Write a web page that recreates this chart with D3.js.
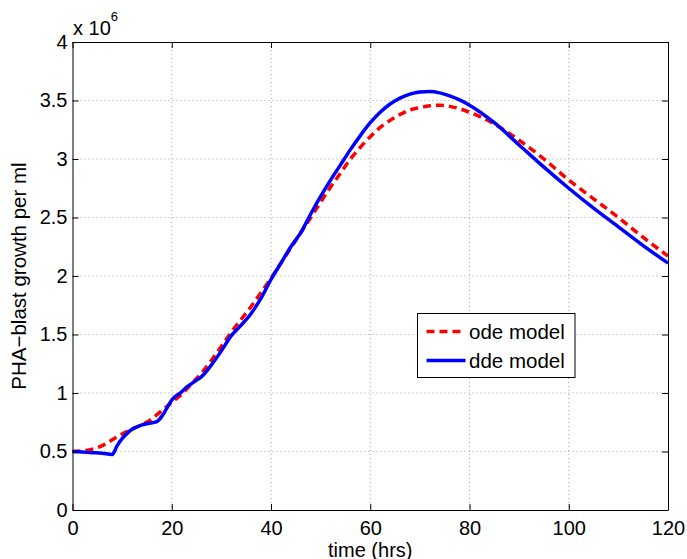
<!DOCTYPE html>
<html>
<head>
<meta charset="utf-8">
<script src="https://cdn.jsdelivr.net/npm/d3@7"></script>
<style>
  body { margin: 0; background: #fff; }
  text { font-family: "Liberation Sans", Arial, sans-serif; }
</style>
</head>
<body>
<div id="chart"></div>
<script>
// time points (hrs)
const timeDde = [0, 2, 4, 6, 8, 9, 10, 11, 12, 13, 14, 15, 16, 17, 18, 19, 20, 22, 23, 24, 25, 26, 28, 30, 32, 34, 36, 38, 40, 42, 44, 46, 48, 50, 52, 54, 56, 58, 60, 62, 64, 66, 68, 70, 72, 74, 76, 78, 80, 85, 90, 95, 100, 105, 110, 115, 120];
const ddeValues = [0.50, 0.495, 0.49, 0.485, 0.475, 0.55, 0.61, 0.655, 0.69, 0.71, 0.727, 0.737, 0.745, 0.755, 0.80, 0.87, 0.94, 1.01, 1.05, 1.08, 1.11, 1.14, 1.24, 1.36, 1.49, 1.58, 1.68, 1.81, 1.97, 2.11, 2.25, 2.37, 2.53, 2.68, 2.82, 2.95, 3.08, 3.20, 3.31, 3.40, 3.47, 3.52, 3.555, 3.573, 3.576, 3.565, 3.54, 3.505, 3.46, 3.31, 3.12, 2.93, 2.75, 2.58, 2.42, 2.26, 2.11];

const timeOde = [0, 2, 4, 6, 8, 10, 12, 14, 16, 18, 20, 22, 24, 26, 28, 30, 32, 34, 36, 38, 40, 42, 44, 46, 48, 50, 52, 54, 56, 58, 60, 62, 64, 66, 68, 70, 72, 74, 76, 78, 80, 85, 90, 95, 100, 105, 110, 115, 120];
const odeValues = [0.50, 0.505, 0.52, 0.55, 0.60, 0.65, 0.69, 0.73, 0.78, 0.85, 0.92, 0.99, 1.08, 1.17, 1.28, 1.40, 1.52, 1.63, 1.74, 1.86, 1.98, 2.11, 2.24, 2.37, 2.50, 2.63, 2.76, 2.88, 3.00, 3.10, 3.19, 3.27, 3.33, 3.38, 3.42, 3.44, 3.455, 3.46, 3.45, 3.43, 3.40, 3.30, 3.16, 3.00, 2.82, 2.66, 2.50, 2.33, 2.17];

const xTicks = [0, 20, 40, 60, 80, 100, 120];
const yTicks = [0, 0.5, 1, 1.5, 2, 2.5, 3, 3.5, 4];

const legendItems = [
  { label: 'ode model', color: '#ff0000', dash: '8,5' },
  { label: 'dde model', color: '#0000ff', dash: null }
];

const width = 687, height = 559;
const margin = { top: 42, right: 19, bottom: 49, left: 72.5 };
const innerW = width - margin.left - margin.right;
const innerH = height - margin.top - margin.bottom;

const svg = d3.select('#chart').append('svg')
  .attr('width', width)
  .attr('height', height);

svg.append('rect').attr('width', width).attr('height', height).attr('fill', '#fff');

const g = svg.append('g').attr('transform', `translate(${margin.left},${margin.top})`);

const x = d3.scaleLinear().domain([0, 120]).range([0, innerW]);
const y = d3.scaleLinear().domain([0, 4]).range([innerH, 0]);

// grid
const grid = g.append('g');
grid.selectAll('.vgrid').data(xTicks.slice(1, -1)).enter().append('line')
  .attr('x1', d => x(d)).attr('x2', d => x(d))
  .attr('y1', 0).attr('y2', innerH)
  .attr('stroke', '#a0a0a0').attr('stroke-width', 1).attr('stroke-dasharray', '1,3');
grid.selectAll('.hgrid').data(yTicks.slice(1, -1)).enter().append('line')
  .attr('y1', d => y(d)).attr('y2', d => y(d))
  .attr('x1', 0).attr('x2', innerW)
  .attr('stroke', '#a0a0a0').attr('stroke-width', 1).attr('stroke-dasharray', '1,3');

// lines
const line = d3.line()
  .x(d => x(d[0]))
  .y(d => y(d[1]))
  .curve(d3.curveMonotoneX);

g.append('path')
  .datum(d3.zip(timeOde, odeValues))
  .attr('d', line)
  .attr('fill', 'none')
  .attr('stroke', legendItems[0].color)
  .attr('stroke-width', 3.5)
  .attr('stroke-dasharray', legendItems[0].dash);

g.append('path')
  .datum(d3.zip(timeDde, ddeValues))
  .attr('d', line)
  .attr('fill', 'none')
  .attr('stroke', legendItems[1].color)
  .attr('stroke-width', 3.5);

// axes (ticks pointing inward)
const fmtY = d => d3.format('')(d);
const bottomAxis = d3.axisBottom(x).tickValues(xTicks).tickSize(-6).tickSizeOuter(0).tickPadding(11);
const topAxis = d3.axisTop(x).tickValues(xTicks).tickSize(-6).tickSizeOuter(0).tickFormat('');
const leftAxis = d3.axisLeft(y).tickValues(yTicks).tickSize(-6).tickSizeOuter(0).tickPadding(5).tickFormat(fmtY);
const rightAxis = d3.axisRight(y).tickValues(yTicks).tickSize(-6).tickSizeOuter(0).tickFormat('');

const styleAxis = sel => {
  sel.select('.domain').attr('stroke', '#000').attr('stroke-width', 1);
  sel.selectAll('.tick line').attr('stroke', '#000');
  sel.selectAll('text').attr('fill', '#000').style('font-size', '20px')
    .style('font-family', '"Liberation Sans", Arial, sans-serif');
};

g.append('g').attr('transform', `translate(0,${innerH})`).call(bottomAxis).call(styleAxis);
g.append('g').call(topAxis).call(styleAxis);
g.append('g').call(leftAxis).call(styleAxis);
g.append('g').attr('transform', `translate(${innerW},0)`).call(rightAxis).call(styleAxis);

// exponent label
const expo = svg.append('text')
  .attr('x', margin.left + 0.5)
  .attr('y', 35)
  .style('font-size', '20px');
expo.append('tspan').text('x 10');
expo.append('tspan').attr('dy', -14).style('font-size', '13px').text('6');

// axis labels
svg.append('text')
  .attr('x', margin.left + innerW / 2)
  .attr('y', 556.5)
  .attr('text-anchor', 'middle')
  .style('font-size', '20px')
  .text('time (hrs)');

svg.append('text')
  .attr('transform', `translate(25.5,${margin.top + innerH / 2}) rotate(-90)`)
  .attr('text-anchor', 'middle')
  .style('font-size', '20.5px')
  .text('PHA\u2212blast growth per ml');

// legend
const legend = svg.append('g').attr('transform', 'translate(417.5,313.5)');
legend.append('rect')
  .attr('width', 157.5).attr('height', 64)
  .attr('fill', '#fff').attr('stroke', '#000').attr('stroke-width', 1);
const rows = legend.selectAll('.item').data(legendItems).enter().append('g')
  .attr('transform', (d, i) => `translate(0,${18 + i * 29})`);
rows.append('line')
  .attr('x1', 9).attr('x2', 48)
  .attr('stroke', d => d.color).attr('stroke-width', 3.5)
  .attr('stroke-dasharray', d => d.dash);
rows.append('text')
  .attr('x', 51.5).attr('dy', '0.36em')
  .style('font-size', '20.5px')
  .text(d => d.label);
</script>
</body>
</html>
